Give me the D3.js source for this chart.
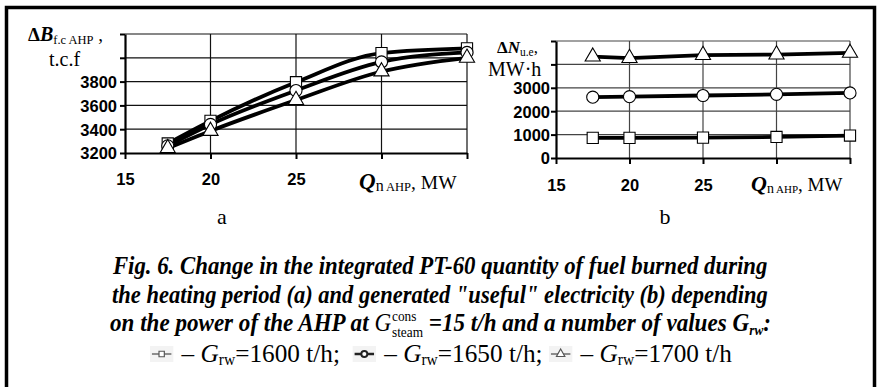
<!DOCTYPE html>
<html><head><meta charset="utf-8">
<script src="https://cdn.jsdelivr.net/npm/d3@7"></script>
<style>body{margin:0;background:#fff}svg{display:block}</style>
</head><body><svg id="c" width="880" height="387"></svg>
<script>
// ---------- data ----------
const xValues = [17.5, 20, 25, 30, 35];
const xTicks = [15, 20, 25, 30, 35];
const xTickLabels = [15, 20, 25];
const fuelTickLabels = [3200, 3400, 3600, 3800];
const fuelGrid = [3200, 3400, 3600, 3800, 4000, 4200];
const elecTickLabels = [0, 1000, 2000, 3000];
const elecGrid = [0, 1000, 2000, 3000, 4000, 5000];
const seriesNames = ["1600", "1650", "1700"];
const seriesSymbols = ["square", "circle", "triangle"];
const fuel1600 = [3280, 3470, 3795, 4040, 4080];
const fuel1650 = [3260, 3440, 3725, 3965, 4045];
const fuel1700 = [3240, 3385, 3645, 3885, 4000];
const elec1600 = [860, 860, 870, 900, 960];
const elec1650 = [2600, 2620, 2670, 2720, 2780];
const elec1700 = [4330, 4270, 4400, 4420, 4490];

const svg = d3.select("#c");
svg.append("rect").attr("width", 880).attr("height", 387).attr("fill", "#fff");
svg.append("path").attr("d", "M6.5,400V7.5H874.5V400").attr("fill", "none")
  .attr("stroke", "#000").attr("stroke-width", 3.5);

const SERIF = "'Liberation Serif','Times New Roman',serif";
const SANS = "'Liberation Sans',Arial,sans-serif";

function symbolPath(name, size) {
  const t = name === "square" ? d3.symbolSquare : name === "circle" ? d3.symbolCircle : d3.symbolTriangle;
  return d3.symbol().type(t).size(size)();
}

function panel(cfg) {
  const x = d3.scaleLinear().domain([15, 35]).range(cfg.xr);
  const y = d3.scaleLinear().domain(cfg.yd).range(cfg.yr);
  const g = svg.append("g");
  g.selectAll(".hg").data(cfg.grid.slice(1)).join("line")
    .attr("x1", cfg.xr[0]).attr("x2", cfg.xr[1]).attr("y1", d => y(d)).attr("y2", d => y(d))
    .attr("stroke", cfg.gridColor).attr("stroke-width", 1.2);
  g.selectAll(".vg").data(xTicks.slice(1)).join("line")
    .attr("x1", d => x(d)).attr("x2", d => x(d)).attr("y1", cfg.yr[0]).attr("y2", cfg.yr[1])
    .attr("stroke", cfg.gridColor).attr("stroke-width", 1.2);
  const ya = g.append("g").attr("transform", `translate(${cfg.xr[0]},0)`)
    .call(d3.axisLeft(y).tickValues(cfg.grid).tickSize(5).tickSizeOuter(0)
      .tickFormat(v => cfg.labels.includes(v) ? d3.format("d")(v) : ""));
  const xa = g.append("g").attr("transform", `translate(0,${cfg.yr[0]})`)
    .call(d3.axisBottom(x).tickValues(xTicks).tickSize(6).tickSizeOuter(0)
      .tickFormat(v => xTickLabels.includes(v) ? d3.format("d")(v) : ""));
  [ya, xa].forEach(a => {
    a.select(".domain").attr("stroke", "#000").attr("stroke-width", 2.2);
    a.selectAll(".tick line").attr("stroke", "#000").attr("stroke-width", 2);
    a.selectAll("text").attr("font-family", SANS).attr("font-weight", "bold")
      .attr("font-size", 16.5).attr("fill", "#000");
  });
  ya.selectAll("text").attr("x", -cfg.ylabGap).attr("dy", "0.36em");
  xa.selectAll("text").attr("y", cfg.xlabY).attr("dy", 0);
  const line = d3.line().x((d, i) => x(xValues[i])).y(d => y(d)).curve(cfg.curve);
  cfg.data.forEach(arr => {
    g.append("path").attr("d", line(arr)).attr("fill", "none")
      .attr("stroke", "#000").attr("stroke-width", 3.8).attr("stroke-linejoin", "round");
  });
  cfg.data.forEach((arr, si) => {
    g.selectAll(null).data(arr).join("path")
      .attr("transform", (d, i) => `translate(${x(xValues[i])},${y(d)})`)
      .attr("d", symbolPath(seriesSymbols[si], seriesSymbols[si] === "triangle" ? 100 : seriesSymbols[si] === "circle" ? 115 : 125))
      .attr("fill", "#fff").attr("stroke", "#000").attr("stroke-width", 1.1);
  });
  return { x, y };
}

panel({ xr: [125, 467], yd: [3200, 4200], yr: [153, 34], grid: fuelGrid, labels: fuelTickLabels,
  data: [fuel1600, fuel1650, fuel1700], curve: d3.curveMonotoneX, gridColor: "#111", ylabGap: 8, xlabY: 32 });
panel({ xr: [556, 850], yd: [0, 5000], yr: [158, 41], grid: elecGrid, labels: elecTickLabels,
  data: [elec1600, elec1650, elec1700], curve: d3.curveLinear, gridColor: "#444", ylabGap: 6, xlabY: 33 });

function rich(x, y, parts, anchor) {
  const t = svg.append("text").attr("x", x).attr("y", y).attr("font-family", SERIF)
    .attr("text-anchor", anchor || "start").attr("fill", "#000");
  parts.forEach(p => {
    const s = t.append("tspan").text(p.t).attr("font-size", p.fs || 18);
    if (p.b) s.attr("font-weight", "bold");
    if (p.i) s.attr("font-style", "italic");
    if (p.dy) s.attr("dy", p.dy);
  });
  return t;
}
rich(28, 41, [{ t: "Δ", fs: 19, b: 1 }, { t: "B", fs: 20, b: 1, i: 1 }, { t: "f.c AHP", fs: 12.5, dy: 3 }, { t: " ,", fs: 19, dy: -3 }]);
rich(49, 66, [{ t: "t.c.f", fs: 20 }]);
rich(359, 189, [{ t: "Q", fs: 23, b: 1, i: 1 }, { t: "n", fs: 16, dy: 2 }, { t: " AHP", fs: 12.5 }, { t: ", MW", fs: 19.5, dy: -2 }]);

rich(497, 53, [{ t: "Δ", fs: 17, b: 1 }, { t: "N", fs: 17, b: 1, i: 1 }, { t: "u.e", fs: 11.5, dy: 3 }, { t: ",", fs: 17, dy: -3 }]);
rich(488, 76, [{ t: "MW·h", fs: 20 }]);
rich(751, 191, [{ t: "Q", fs: 22, b: 1, i: 1 }, { t: "n", fs: 14, dy: 2 }, { t: " AHP", fs: 11 }, { t: ", MW", fs: 19, dy: -2 }]);

rich(222, 224, [{ t: "a", fs: 22 }], "middle");
rich(665, 224, [{ t: "b", fs: 22 }], "middle");

// ----- caption -----
function layoutLine(baseline, parts, x0, x1) {
  const g = svg.append("g");
  let cx = 0;
  parts.forEach(p => {
    if (p.icon) {
      const ig = g.append("g").attr("transform", `translate(${cx},${baseline - 8})`);
      ig.append("rect").attr("x", 0).attr("y", -8).attr("width", 24).attr("height", 16).attr("fill", "#f3f3f3");
      const dark = p.icon === "circle";
      ig.append("line").attr("x1", 2).attr("x2", 22).attr("stroke", dark ? "#222" : "#555")
        .attr("stroke-width", dark ? 2.5 : 1.3);
      ig.append("path").attr("transform", "translate(12,0)").attr("d", symbolPath(p.icon, p.icon === "triangle" ? 32 : 30))
        .attr("fill", "#fff").attr("stroke", dark ? "#222" : "#555").attr("stroke-width", dark ? 2 : 1.2);
      cx += 26;
      return;
    }
    const t = g.append("text").attr("x", cx).attr("y", baseline + (p.dy || 0))
      .attr("font-family", SERIF).attr("font-size", p.fs || 26).attr("fill", "#000")
      .style("white-space", "pre").text(p.t);
    if (p.b) t.attr("font-weight", "bold");
    if (p.i) t.attr("font-style", "italic");
    cx += t.node().getComputedTextLength();
  });
  const bb = g.node().getBBox();
  const sx = (x1 - x0) / bb.width;
  g.attr("transform", `translate(${x0},0) scale(${sx},1) translate(${-bb.x},0)`);
}

const BI = { b: 1, i: 1 };
layoutLine(274, [{ t: "Fig. 6. Change in the integrated PT-60 quantity of fuel burned during", ...BI }], 112, 768);
layoutLine(303, [{ t: "the heating period (a) and generated \"useful\" electricity (b) depending", ...BI }], 112, 768);
(function () {
  const baseline = 331;
  const g = svg.append("g");
  let cx = 0;
  function put(txt, opt) {
    const t = g.append("text").attr("x", cx + (opt.dx || 0)).attr("y", baseline + (opt.dy || 0))
      .attr("font-family", SERIF).attr("font-size", opt.fs || 26).attr("fill", "#000")
      .style("white-space", "pre").text(txt);
    if (opt.b) t.attr("font-weight", "bold");
    if (opt.i) t.attr("font-style", "italic");
    return t.node().getComputedTextLength();
  }
  cx += put("on the power of the AHP at ", BI);
  cx += put("G", { i: 1, fs: 26 }) + 1;
  const w1 = put("cons", { fs: 15, dy: -10 });
  const w2 = put("steam", { fs: 15, dy: 6 });
  cx += Math.max(w1, w2);
  cx += put(" =15 t/h and a number of values G", BI);
  cx += put("rw", { b: 1, i: 1, fs: 15, dy: 4 });
  cx += put(":", BI);
  const bb = g.node().getBBox();
  const sx = (771 - 110) / bb.width;
  g.attr("transform", `translate(110,0) scale(${sx},1) translate(${-bb.x},0)`);
})();
layoutLine(362, [
  { icon: "square" }, { t: " – " }, { t: "G", i: 1 }, { t: "rw", fs: 16, dy: 3 }, { t: "=1600 t/h;  " },
  { icon: "circle" }, { t: " – " }, { t: "G", i: 1 }, { t: "rw", fs: 16, dy: 3 }, { t: "=1650 t/h; " },
  { icon: "triangle" }, { t: " – " }, { t: "G", i: 1 }, { t: "rw", fs: 16, dy: 3 }, { t: "=1700 t/h" }
], 150, 732);
</script>
</body></html>
